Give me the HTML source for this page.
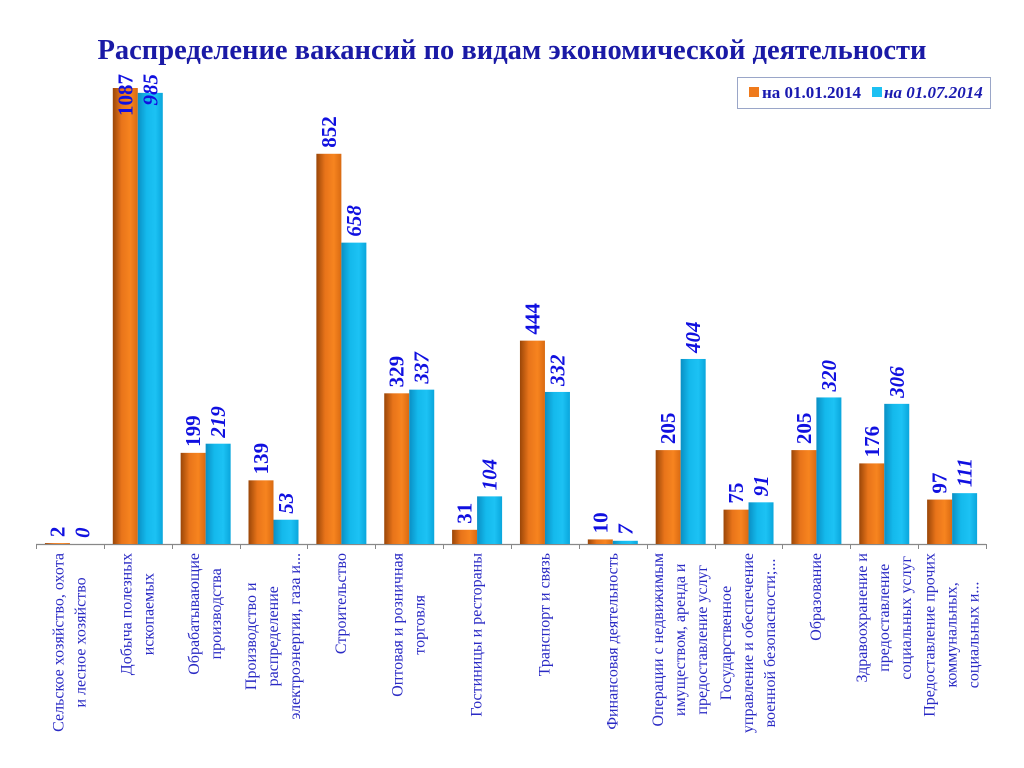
<!DOCTYPE html>
<html><head><meta charset="utf-8"><style>
html,body{margin:0;padding:0;background:#fff;width:1024px;height:768px;overflow:hidden}
svg{display:block}
</style></head><body>
<svg id="s" width="1024" height="768" xmlns="http://www.w3.org/2000/svg">
<defs>
<linearGradient id="go" x1="0" x2="1" y1="0" y2="0">
<stop offset="0" stop-color="#9a4608"/><stop offset="0.35" stop-color="#e8741a"/><stop offset="0.7" stop-color="#f7841f"/><stop offset="1" stop-color="#d96a12"/></linearGradient>
<linearGradient id="gc" x1="0" x2="1" y1="0" y2="0">
<stop offset="0" stop-color="#0a8fc4"/><stop offset="0.35" stop-color="#14b9ec"/><stop offset="0.7" stop-color="#1cc2f4"/><stop offset="1" stop-color="#0aa6dc"/></linearGradient>
</defs>
<text x="512" y="59" text-anchor="middle" font-family="Liberation Serif, serif" font-weight="bold" font-size="28.5" fill="#1a1aa6">Распределение вакансий  по видам экономической деятельности</text>
<rect x="737.5" y="77.5" width="253" height="31" fill="#fff" stroke="#9aa6c8"/>
<rect x="749" y="87" width="10" height="10" fill="#ef7a1c"/>
<text x="762" y="98" font-family="Liberation Serif, serif" font-weight="bold" font-size="17" fill="#1a1ab0">на 01.01.2014</text>
<rect x="872" y="87" width="10" height="10" fill="#1cc0f2"/>
<text x="884" y="98" font-family="Liberation Serif, serif" font-weight="bold" font-style="italic" font-size="17" fill="#1a1ab0">на 01.07.2014</text>
<g id="g"></g>
</svg>
<script>
(function(){
var A=[2,1087,199,139,852,329,31,444,10,205,75,205,176,97];
var B=[0,985,219,53,658,337,104,332,7,404,91,320,306,111];
var L=[["Сельское хозяйство, охота","и лесное хозяйство"],["Добыча полезных","ископаемых"],["Обрабатывающие","производства"],["Производство и","распределение","электроэнергии, газа и..."],["Строительство"],["Оптовая и розничная","торговля"],["Гостиницы и рестораны"],["Транспорт и связь"],["Финансовая деятельность"],["Операции с недвижимым","имуществом, аренда и","предоставление услуг"],["Государственное","управление и обеспечение","военной безопасности;..."],["Образование"],["Здравоохранение и","предоставление","социальных услуг"],["Предоставление прочих","коммунальных,","социальных и..."]];
var NS="http://www.w3.org/2000/svg",g=document.getElementById("g");
function el(t,a,txt){var e=document.createElementNS(NS,t);for(var k in a)e.setAttribute(k,a[k]);if(txt!=null)e.textContent=txt;g.appendChild(e);return e;}
var x0=36,w=67.86,base=544,sc=0.458,ptop=88;
el("line",{x1:x0,y1:base+0.5,x2:986,y2:base+0.5,stroke:"#888","stroke-width":1.2});
for(var i=0;i<=14;i++){var x=Math.round(x0+w*i)+0.5;el("line",{x1:x,y1:base,x2:x,y2:base+5,stroke:"#888"});}
for(var i=0;i<14;i++){
 var cx=x0+w*(i+0.5);
 var ha=Math.min(A[i]*sc,base-ptop),hb=Math.min(B[i]*sc,base-ptop);
 var xa=cx-25,xb=cx;
 if(ha>0)el("rect",{x:xa,y:base-ha,width:25,height:ha,fill:"url(#go)"});
 if(hb>0)el("rect",{x:xb,y:base-hb,width:25,height:hb,fill:"url(#gc)"});
 [[A[i],ha,xa+12.5,false],[B[i],hb,xb+12.5,true]].forEach(function(v){
  var yTop=base-v[1]-6;
  var attrs={"font-family":"Liberation Serif, serif","font-weight":"bold","font-size":"21",fill:"#1010e0","dominant-baseline":"central"};
  if(v[3])attrs["font-style"]="italic";
  if(yTop<120){attrs["text-anchor"]="end";attrs.transform="translate("+v[2]+",74) rotate(-90)";}
  else{attrs["text-anchor"]="start";attrs.transform="translate("+v[2]+","+yTop+") rotate(-90)";}
  el("text",attrs,String(v[0]));
 });
 var lines=L[i],n=lines.length,els=[],mx=0;
 for(var j=0;j<n;j++){
  var lx=cx+(j-(n-1)/2)*22;
  var t=el("text",{"font-family":"Liberation Serif, serif","font-size":"16",fill:"#2a2ac4","text-anchor":"middle","dominant-baseline":"central"},lines[j]);
  els.push([t,lx]);mx=Math.max(mx,t.getComputedTextLength());
 }
 var cy=553+mx/2;
 els.forEach(function(p){p[0].setAttribute("transform","translate("+p[1]+","+cy+") rotate(-90)");});
}
})();
</script>
</body></html>
